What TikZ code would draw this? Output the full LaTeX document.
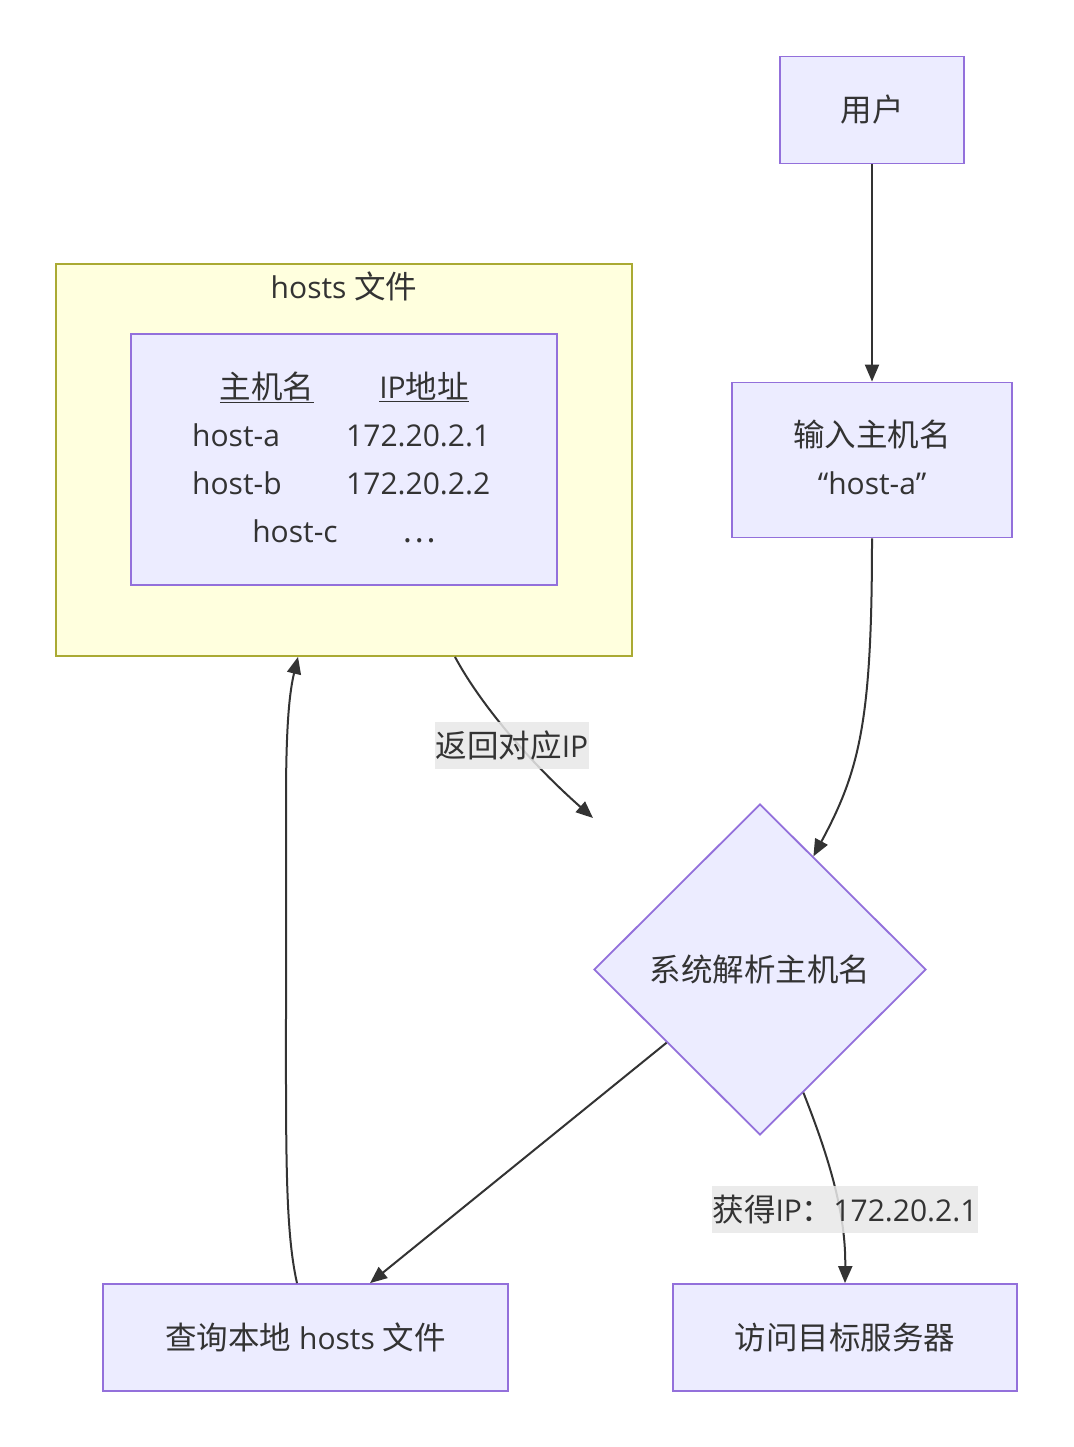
\documentclass[tikz,border=0pt]{standalone}
\usepackage{fontspec}
\setmainfont{Open Sans}
\newfontfamily\cjk[Scale=1.05]{Noto Sans CJK SC}
\usetikzlibrary{arrows.meta,shapes.geometric,calc}
\definecolor{boxfill}{HTML}{ECECFF}
\definecolor{boxline}{HTML}{9370DB}
\definecolor{clfill}{HTML}{FFFFDE}
\definecolor{clline}{HTML}{AAAA33}
\definecolor{ink}{HTML}{333333}
\definecolor{lblbg}{HTML}{E8E8E8}
\begin{document}
\begin{tikzpicture}[x=1pt,y=-1pt,
  font=\fontsize{30}{48}\selectfont,
  txt/.style={text=ink, inner sep=0pt, text height=27pt, text depth=4pt},
  box/.style={draw=boxline, fill=boxfill, line width=1.8pt, rectangle, inner sep=0pt},
  cluster/.style={draw=clline, fill=clfill, line width=1.8pt, rectangle, inner sep=0pt},
  decision/.style={draw=boxline, fill=boxfill, line width=1.8pt, diamond, inner sep=0pt, text=ink, text height=27pt, text depth=4pt},
  edge/.style={draw=ink, line width=2pt, -{Triangle[length=17pt,width=14pt]}},
  lbl/.style={txt, fill=lblbg, fill opacity=0.85, text opacity=1, inner xsep=1pt, minimum height=47pt}
]
\useasboundingbox (0,0) rectangle (1073,1447);
\fill[white] (0,0) rectangle (1073,1447);

% cluster
\node[cluster, minimum width=576pt, minimum height=392pt] (cl) at (344,460) {};
\node[txt] (cltitle) at (344,287) {hosts {\cjk 文件}};
\node[box, minimum width=426pt, minimum height=251pt] (tab) at (344,459.5) {};
\node[txt] (h1) at (267,387) {\underline{\cjk 主机名}};
\node[txt] (h2) at (424,387) {\underline{IP{\cjk 地址}}};
\node[txt, anchor=west] (ra1) at (192,435) {host-a};
\node[txt, anchor=west] (ra2) at (346,435) {172.20.2.1};
\node[txt, anchor=west] (rb1) at (192,483) {host-b};
\node[txt, anchor=west] (rb2) at (346,483) {172.20.2.2};
\node[txt] (rc1) at (295,531) {host-c};
\node[txt] (rc2) at (419,531) {{\cjk …}};

% nodes
\node[box, minimum width=184pt, minimum height=107pt] (user) at (872,110) {};
\node[txt] (usert) at (872,110) {\cjk 用户};
\node[box, minimum width=280pt, minimum height=155pt] (inp) at (872,460) {};
\node[txt] (inpt1) at (872,435) {\cjk 输入主机名};
\node[txt] (inpt2) at (872,483) {“host-a”};
\node[decision, minimum width=332pt, minimum height=331pt] (dia) at (760,969.5) {\cjk 系统解析主机名};
\node[box, minimum width=405pt, minimum height=107pt] (query) at (305.5,1337.5) {};
\node[txt] (queryt) at (305.5,1337.5) {{\cjk 查询本地} hosts {\cjk 文件}};
\node[box, minimum width=344pt, minimum height=107pt] (visit) at (845,1337.5) {};
\node[txt] (visitt) at (845,1337.5) {\cjk 访问目标服务器};

\coordinate (free) at (593,818);

% edges
\draw[edge] (user.south) -- (inp.north);
\draw[edge] (inp.south) .. controls (872,720) and (860,770) .. ($(dia.north)!0.32!(dia.east)$);
\draw[edge] ($(dia.west)!0.44!(dia.south)$) -- ([xshift=64.5pt]query.north);
\draw[edge] ([xshift=-8.5pt]query.north) .. controls (285,1230) and (286,1150) .. (286,1000)
  -- (286,800) .. controls (286,720) and (290,690) .. ([xshift=-46pt]cl.south);
\draw[edge] ([xshift=111pt]cl.south) .. controls (478,700) and (525,758) .. (free);
\draw[edge] ($(dia.south)!0.26!(dia.east)$) .. controls (830,1160) and (846,1215) .. (visit.north);

% labels
\node[lbl] (l1) at (512,745.5) {{\cjk 返回对应}IP};
\node[lbl] (l2) at (845,1209.5) {{\cjk 获得}IP{\cjk ：}172.20.2.1};
\end{tikzpicture}
\end{document}
